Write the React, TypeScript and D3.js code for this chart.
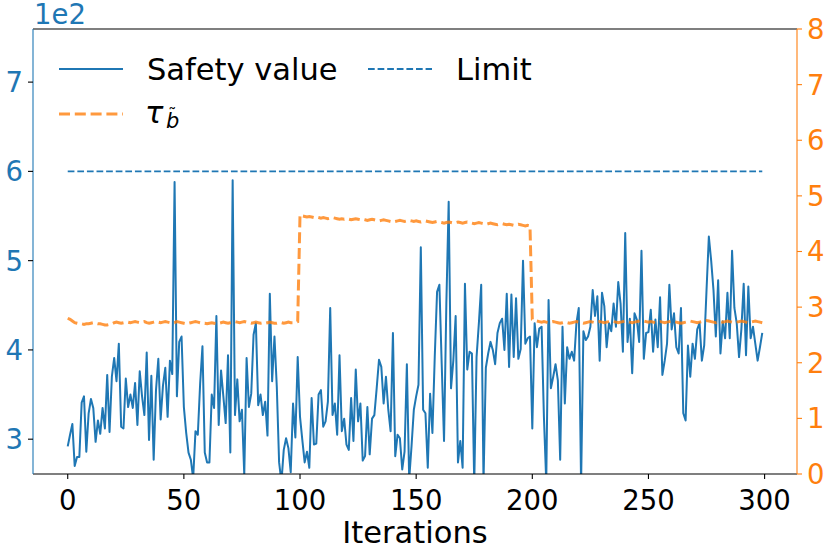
import React from "react";
import * as d3 from "d3";

const safetyValues: number[] = [
  292, 305, 317, 270, 280, 280, 341, 348, 286, 329,
  345, 335, 297, 321, 306, 335, 312, 372, 308, 370,
  391, 365, 407, 314, 312, 368, 336, 350, 335, 363,
  316, 376, 348, 327, 397, 299, 371, 277, 355, 390,
  322, 360, 380, 325, 388, 373, 588, 348, 409, 415,
  336, 307, 285, 277, 256, 309, 305, 362, 404, 285,
  274, 274, 350, 335, 438, 316, 377, 348, 318, 394,
  285, 590, 327, 367, 320, 333, 260, 391, 336, 351,
  417, 430, 338, 350, 327, 342, 304, 463, 365, 415,
  359, 274, 252, 288, 301, 290, 263, 340, 302, 392,
  325, 299, 274, 286, 268, 346, 294, 295, 350, 355,
  314, 320, 342, 447, 327, 340, 305, 394, 309, 323,
  294, 288, 346, 298, 378, 320, 340, 276, 281, 336,
  283, 323, 327, 357, 389, 381, 340, 370, 333, 309,
  419, 281, 305, 301, 266, 286, 384, 255, 292, 333,
  348, 361, 515, 333, 329, 268, 351, 307, 392, 465,
  473, 384, 298, 452, 566, 357, 388, 438, 274, 298,
  268, 474, 378, 398, 396, 250, 392, 430, 473, 252,
  380, 396, 409, 400, 384, 419, 430, 435, 400, 463,
  381, 462, 392, 458, 390, 401, 500, 407, 413, 415,
  312, 430, 403, 424, 426, 325, 252, 456, 357, 370,
  384, 366, 277, 426, 340, 403, 390, 398, 388, 430,
  447, 250, 421, 411, 415, 426, 467, 438, 460, 388,
  464, 449, 403, 430, 421, 452, 426, 476, 452, 398,
  531, 409, 435, 374, 441, 434, 409, 511, 390, 419,
  420, 445, 398, 434, 403, 459, 372, 388, 407, 473,
  423, 441, 403, 396, 447, 329, 321, 405, 370, 407,
  390, 423, 430, 388, 405, 467, 527, 500, 467, 415,
  478, 396, 432, 413, 464, 413, 511, 447, 430, 392,
  423, 474, 394, 471, 413, 426, 407, 388, 403, 419,
];

const tauValues: number[] = [
  2.80, 2.78, 2.75, 2.72, 2.71, 2.70, 2.70, 2.69, 2.70, 2.70,
  2.71, 2.72, 2.71, 2.70, 2.70, 2.69, 2.68, 2.68, 2.69, 2.70,
  2.72, 2.73, 2.72, 2.71, 2.72, 2.73, 2.73, 2.72, 2.73, 2.74,
  2.73, 2.72, 2.73, 2.74, 2.72, 2.71, 2.72, 2.73, 2.74, 2.73,
  2.72, 2.73, 2.74, 2.73, 2.72, 2.71, 2.72, 2.74, 2.73, 2.72,
  2.71, 2.70, 2.71, 2.72, 2.73, 2.74, 2.73, 2.72, 2.71, 2.71,
  2.70, 2.71, 2.72, 2.71, 2.70, 2.71, 2.72, 2.73, 2.72, 2.71,
  2.72, 2.73, 2.74, 2.73, 2.72, 2.73, 2.74, 2.73, 2.72, 2.71,
  2.72, 2.73, 2.72, 2.71, 2.72, 2.71, 2.72, 2.73, 2.72, 2.71,
  2.71, 2.72, 2.72, 2.71, 2.72, 2.73, 2.72, 2.72, 2.73, 2.74,
  4.66, 4.64, 4.63, 4.62, 4.63, 4.62, 4.61, 4.62, 4.61, 4.60,
  4.61, 4.60, 4.59, 4.60, 4.61, 4.60, 4.59, 4.58, 4.59, 4.58,
  4.59, 4.58, 4.57, 4.58, 4.59, 4.58, 4.57, 4.58, 4.57, 4.56,
  4.57, 4.58, 4.57, 4.56, 4.55, 4.56, 4.57, 4.56, 4.55, 4.54,
  4.53, 4.54, 4.55, 4.56, 4.55, 4.54, 4.55, 4.56, 4.55, 4.54,
  4.55, 4.54, 4.53, 4.54, 4.55, 4.54, 4.53, 4.52, 4.53, 4.54,
  4.53, 4.52, 4.51, 4.52, 4.53, 4.52, 4.51, 4.52, 4.53, 4.52,
  4.51, 4.52, 4.53, 4.52, 4.51, 4.50, 4.51, 4.52, 4.51, 4.50,
  4.49, 4.50, 4.51, 4.50, 4.49, 4.48, 4.49, 4.50, 4.49, 4.48,
  4.49, 4.48, 4.47, 4.48, 4.49, 4.48, 4.47, 4.46, 4.47, 4.46,
  2.78, 2.76, 2.75, 2.74, 2.73, 2.74, 2.73, 2.72, 2.73, 2.74,
  2.73, 2.72, 2.71, 2.72, 2.73, 2.72, 2.71, 2.72, 2.73, 2.74,
  2.73, 2.72, 2.71, 2.72, 2.73, 2.74, 2.73, 2.72, 2.73, 2.74,
  2.73, 2.72, 2.73, 2.74, 2.75, 2.74, 2.73, 2.72, 2.73, 2.74,
  2.75, 2.74, 2.73, 2.72, 2.73, 2.74, 2.75, 2.76, 2.75, 2.74,
  2.73, 2.74, 2.73, 2.72, 2.73, 2.74, 2.73, 2.72, 2.73, 2.74,
  2.75, 2.74, 2.73, 2.72, 2.71, 2.72, 2.73, 2.74, 2.75, 2.74,
  2.73, 2.72, 2.73, 2.74, 2.75, 2.76, 2.75, 2.74, 2.73, 2.72,
  2.73, 2.74, 2.73, 2.74, 2.75, 2.74, 2.73, 2.72, 2.73, 2.74,
  2.75, 2.74, 2.73, 2.72, 2.73, 2.74, 2.75, 2.74, 2.73, 2.72,
];

const limitValue = 600;
const xTicks = [0, 50, 100, 150, 200, 250, 300];
const leftTicks = [300, 400, 500, 600, 700];
const leftTickLabels = ["3", "4", "5", "6", "7"];
const rightTicks = [0, 1, 2, 3, 4, 5, 6, 7, 8];

const W = 830;
const H = 554;
const L = 33;
const R = 797;
const T = 29;
const B = 474;
const BLUE = "#1f77b4";
const ORANGE = "#ff7f0e";
const FONT = "DejaVu Sans";

export default function App() {
  const x = d3.scaleLinear().domain([-14.95, 313.95]).range([L, R]);
  const yL = d3.scaleLinear().domain([261, 759.5]).range([B, T]);
  const yR = d3.scaleLinear().domain([0, 8]).range([B, T]);
  const n = safetyValues.length;

  const safetyLine = d3
    .line<number>()
    .x((_, i) => x(i))
    .y((d) => yL(d))(safetyValues) as string;
  const tauLine = d3
    .line<number>()
    .x((_, i) => x(i))
    .y((d) => yR(d))(tauValues) as string;
  const limitLine = d3
    .line<number>()
    .x((d) => x(d))
    .y(() => yL(limitValue))([0, n - 1]) as string;

  return (
    <svg
      width={W}
      height={H}
      style={{ position: "absolute", left: 0, top: 0, background: "#fff" }}
      fontFamily={FONT}
    >
      <defs>
        <clipPath id="plotclip">
          <rect x={L} y={T} width={R - L} height={B - T} />
        </clipPath>
      </defs>
      <rect x={0} y={0} width={W} height={H} fill="#fff" />

      <g clipPath="url(#plotclip)">
        <path d={safetyLine} fill="none" stroke={BLUE} strokeWidth={2} strokeLinejoin="round" />
        <path d={limitLine} fill="none" stroke={BLUE} strokeWidth={1.8} strokeDasharray="6.7,2.9" />
        <path
          d={tauLine}
          fill="none"
          stroke={ORANGE}
          strokeOpacity={0.8}
          strokeWidth={3}
          strokeDasharray="11,4.8"
        />
      </g>

      {/* spines */}
      <line x1={L} x2={R} y1={T} y2={T} stroke="#000" strokeWidth={1.1} />
      <line x1={L} x2={R} y1={B} y2={B} stroke="#000" strokeWidth={1.1} />
      <line x1={L} x2={L} y1={T} y2={B} stroke={BLUE} strokeWidth={1.1} />
      <line x1={R} x2={R} y1={T} y2={B} stroke={ORANGE} strokeWidth={1.1} />

      {/* x ticks */}
      {xTicks.map((t) => (
        <g key={"x" + t}>
          <line x1={x(t)} x2={x(t)} y1={B} y2={B + 5} stroke="#000" strokeWidth={1.1} />
          <text x={x(t)} y={510} textAnchor="middle" fontSize={27.5} fill="#000">
            {t}
          </text>
        </g>
      ))}
      <text x={(L + R) / 2} y={543} textAnchor="middle" fontSize={30.5} fill="#000">
        Iterations
      </text>

      {/* left ticks */}
      {leftTicks.map((t, i) => (
        <g key={"l" + t}>
          <line x1={L - 5} x2={L} y1={yL(t)} y2={yL(t)} stroke="#000" strokeWidth={1.1} />
          <text x={L - 10} y={yL(t)} dy="0.36em" textAnchor="end" fontSize={27.5} fill={BLUE}>
            {leftTickLabels[i]}
          </text>
        </g>
      ))}
      <text x={34} y={24} fontSize={27.5} fill={BLUE}>
        1e2
      </text>

      {/* right ticks */}
      {rightTicks.map((t) => (
        <g key={"r" + t}>
          <line x1={R} x2={R + 5} y1={yR(t)} y2={yR(t)} stroke={ORANGE} strokeWidth={1.1} />
          <text x={R + 10} y={yR(t)} dy="0.36em" textAnchor="start" fontSize={27.5} fill={ORANGE}>
            {t}
          </text>
        </g>
      ))}

      {/* legend */}
      <line x1={59} x2={123} y1={69} y2={69} stroke={BLUE} strokeWidth={2} />
      <text x={147} y={80} fontSize={30.5} fill="#000">
        Safety value
      </text>
      <line x1={368} x2={432} y1={69} y2={69} stroke={BLUE} strokeWidth={1.8} strokeDasharray="6.7,2.9" />
      <text x={456} y={80} fontSize={30.5} fill="#000">
        Limit
      </text>
      <line
        x1={59}
        x2={123}
        y1={114}
        y2={114}
        stroke={ORANGE}
        strokeOpacity={0.8}
        strokeWidth={3}
        strokeDasharray="11,4.8"
      />
      <text x={145} y={123} fontSize={30.5} fontStyle="italic" fill="#000">
        τ
        <tspan x={166} y={128} fontSize={21}>
          b
        </tspan>
        <tspan x={168} y={121} fontSize={17} fontStyle="normal">
          ˜
        </tspan>
      </text>
    </svg>
  );
}
